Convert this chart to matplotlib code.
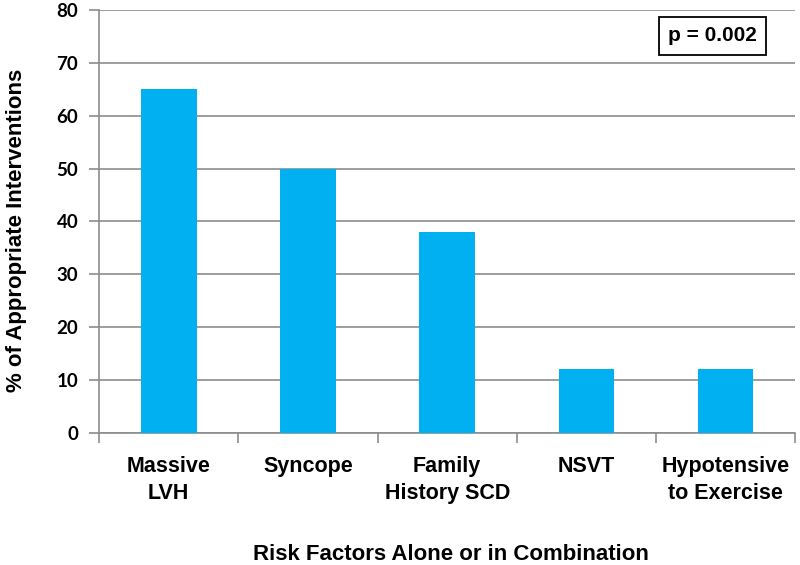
import matplotlib.pyplot as plt
import numpy as np

categories = ['Massive\nLVH', 'Syncope', 'Family\nHistory SCD', 'NSVT', 'Hypotensive\nto Exercise']
values = [65, 50, 38, 12, 12]
yticks = [0, 10, 20, 30, 40, 50, 60, 70, 80]

fig = plt.figure(figsize=(8, 5.65), dpi=100)
ax = fig.add_axes([0.124, 0.234, 0.87, 0.748])

x = np.arange(len(categories))
ax.bar(x, values, width=0.4, color='#00B0F0', zorder=3)

ax.set_xlim(-0.5, len(categories) - 0.5)
ax.set_ylim(0, 80)
ax.set_yticks(yticks)
ax.yaxis.grid(True, color='#8c8c8c', linewidth=1.2, zorder=0)

for s in ['top', 'right']:
    ax.spines[s].set_visible(False)
ax.spines['left'].set_color('#8c8c8c')
ax.spines['bottom'].set_color('#8c8c8c')
ax.spines['left'].set_linewidth(1.2)
ax.spines['bottom'].set_linewidth(1.2)

ax.set_xticks(x)
ax.set_xticklabels(categories, fontsize=15.5, fontweight='bold', family='Liberation Sans', linespacing=1.35)
ax.tick_params(axis='x', which='major', length=0, pad=17)
ax.set_xticks(np.arange(-0.5, len(categories), 1.0), minor=True)
ax.tick_params(axis='x', which='minor', length=7, width=1.2, color='#8c8c8c', direction='out')
ax.tick_params(axis='y', length=7, width=1.2, color='#8c8c8c', labelsize=13.5, pad=8)
for lab in ax.get_yticklabels():
    lab.set_fontweight('bold')
    lab.set_family('Lato')

ax.set_ylabel('% of Appropriate Interventions', fontsize=16, fontweight='bold',
              family='Liberation Sans', va='center')
ax.yaxis.set_label_coords(-0.119, 0.48)
ax.set_xlabel('Risk Factors Alone or in Combination', fontsize=16, fontweight='bold',
              family='Liberation Sans', va='baseline')
ax.xaxis.set_label_coords(0.505, -0.300)

ax.text(0.881, 0.939, 'p = 0.002', transform=ax.transAxes, ha='center', va='center',
        fontsize=15, fontweight='bold', family='Liberation Sans',
        bbox=dict(boxstyle='square,pad=0.45', facecolor='white', edgecolor='black', linewidth=1.3))

fig.savefig('out.png', dpi=100)
